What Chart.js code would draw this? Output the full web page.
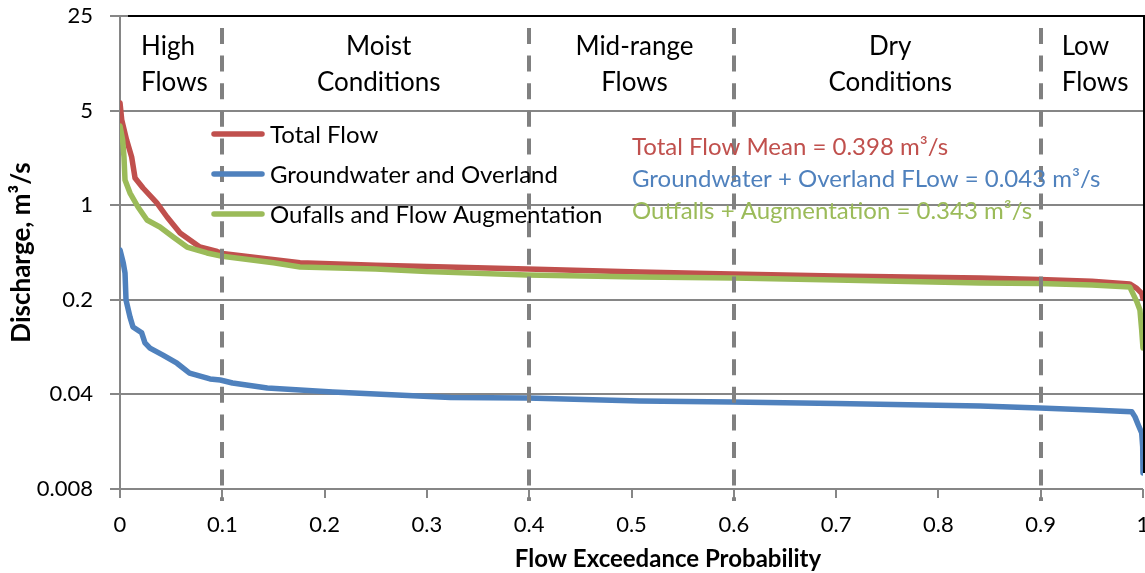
<!DOCTYPE html>
<html>
<head>
<meta charset="utf-8">
<title>Flow Duration Curves</title>
<script src="https://cdn.jsdelivr.net/npm/chart.js@4.4.1/dist/chart.umd.min.js"></script>
<style>
  html, body { margin: 0; padding: 0; background: #ffffff; }
  #wrap { width: 1145px; height: 573px; }
</style>
</head>
<body>
<div id="wrap"><canvas id="c" width="1145" height="573"></canvas></div>
<script>
// Flow duration curves: exceedance probability vs. discharge (m³/s)
const totalP = [0, 0.0017, 0.0065, 0.0114, 0.0147, 0.0225, 0.036, 0.046, 0.0587, 0.078, 0.095, 0.1, 0.176, 0.25, 0.3, 0.398, 0.508, 0.598, 0.7, 0.841, 0.899, 0.95, 0.987, 0.9939, 0.9987, 1.0];
const totalQ = [5.7, 4.26, 3.03, 2.27, 1.59, 1.34, 1.04, 0.818, 0.623, 0.491, 0.455, 0.44, 0.376, 0.36, 0.352, 0.338, 0.321, 0.31, 0.3, 0.29, 0.283, 0.274, 0.262, 0.243, 0.223, 0.205];

const gwP = [0, 0.0032, 0.0049, 0.0059, 0.0098, 0.0127, 0.0212, 0.0244, 0.0293, 0.042, 0.0557, 0.068, 0.088, 0.098, 0.11, 0.144, 0.208, 0.323, 0.398, 0.508, 0.598, 0.7, 0.841, 0.899, 0.95, 0.989, 0.9922, 0.9954, 0.9987, 0.9997, 1.0];
const gwQ = [0.467, 0.374, 0.316, 0.199, 0.149, 0.126, 0.114, 0.096, 0.088, 0.078, 0.068, 0.0575, 0.052, 0.0511, 0.0486, 0.0446, 0.0416, 0.038, 0.0376, 0.0357, 0.0351, 0.0342, 0.0328, 0.0317, 0.0307, 0.0298, 0.0273, 0.0238, 0.0208, 0.0164, 0.0105];

const outP = [0, 0.0026, 0.0039, 0.0049, 0.0098, 0.0176, 0.0264, 0.039, 0.052, 0.0655, 0.085, 0.1, 0.15, 0.176, 0.25, 0.3, 0.398, 0.508, 0.6, 0.7, 0.841, 0.899, 0.95, 0.987, 0.9939, 0.997, 0.9987, 1.0];
const outQ = [3.85, 3.03, 2.27, 1.535, 1.23, 0.97, 0.777, 0.69, 0.582, 0.491, 0.4435, 0.42, 0.375, 0.35, 0.338, 0.323, 0.305, 0.295, 0.29, 0.28, 0.266, 0.264, 0.257, 0.249, 0.194, 0.168, 0.12, 0.088];

const seriesNames = ['Total Flow', 'Groundwater and Overland', 'Oufalls and Flow Augmentation'];
const meanLabels = ['Total Flow Mean = 0.398 m³/s', 'Groundwater + Overland FLow = 0.043 m³/s', 'Outfalls + Augmentation = 0.343 m³/s'];
const xTitle = 'Flow Exceedance Probability';
const yTitle = 'Discharge, m³/s';

const yTicks = [0.008, 0.04, 0.2, 1, 5, 25];
const yTickLabels = ['0.008', '0.04', '0.2', '1', '5', '25'];
const xTicks = [0, 0.1, 0.2, 0.3, 0.4, 0.5, 0.6, 0.7, 0.8, 0.9, 1];
const xTickLabels = ['0', '0.1', '0.2', '0.3', '0.4', '0.5', '0.6', '0.7', '0.8', '0.9', '1'];

// flow-regime zones along the exceedance axis
const zoneBounds = [0, 0.1, 0.4, 0.6, 0.9, 1];
const zoneNames = [['High', 'Flows'], ['Moist', 'Conditions'], ['Mid-range', 'Flows'], ['Dry', 'Conditions'], ['Low', 'Flows']];

const COLORS = ['#C0504D', '#4F81BD', '#9BBB59'];
const FONT = 'Lato, "Open Sans", sans-serif';
const GRID = '#868686';

const toPoints = (p, q) => p.map((v, i) => ({ x: v, y: q[i] }));

const overlay = {
  id: 'overlay',
  afterDatasetsDraw(chart) {
    const { ctx, chartArea: a, scales: { x } } = chart;
    ctx.save();
    // plot frame (top and right)
    ctx.strokeStyle = '#000';
    ctx.lineWidth = 2;
    ctx.beginPath();
    ctx.moveTo(a.left + 8, a.top);
    ctx.lineTo(a.right + 2, a.top);
    ctx.moveTo(a.right + 1, a.top);
    ctx.lineTo(a.right + 1, a.bottom - 16);
    ctx.stroke();

    // zone separators
    ctx.strokeStyle = '#808080';
    ctx.lineWidth = 4;
    ctx.setLineDash([16, 11.6]);
    for (let i = 1; i < zoneBounds.length - 1; i++) {
      const px = Math.round(x.getPixelForValue(zoneBounds[i]));
      ctx.beginPath();
      ctx.moveTo(px, a.top + 12);
      ctx.lineTo(px, a.bottom + 12);
      ctx.stroke();
    }
    ctx.setLineDash([]);

    // zone names
    ctx.fillStyle = '#000';
    ctx.font = '26px ' + FONT;
    ctx.textBaseline = 'alphabetic';
    zoneNames.forEach((lines, i) => {
      const x0 = x.getPixelForValue(zoneBounds[i]);
      const x1 = x.getPixelForValue(zoneBounds[i + 1]);
      let tx, align;
      if (i === 0 || i === zoneNames.length - 1) { tx = x0 + 21; align = 'left'; }
      else { tx = (x0 + x1) / 2 + 3; align = 'center'; }
      ctx.textAlign = align;
      lines.forEach((t, j) => ctx.fillText(t, tx, a.top + 39 + j * 36));
    });
    ctx.restore();
  },
  afterDraw(chart) {
    const { ctx, chartArea: a } = chart;
    ctx.save();
    // legend
    ctx.lineCap = 'round';
    ctx.lineWidth = 5.5;
    ctx.font = '24px ' + FONT;
    ctx.textBaseline = 'middle';
    ctx.textAlign = 'left';
    seriesNames.forEach((name, i) => {
      const ly = 134 + i * 40;
      ctx.strokeStyle = COLORS[i];
      ctx.beginPath();
      ctx.moveTo(214, ly);
      ctx.lineTo(262, ly);
      ctx.stroke();
      ctx.fillStyle = '#000';
      ctx.fillText(name, 270, ly + 1);
    });
    // mean flow annotations
    ctx.textBaseline = 'alphabetic';
    meanLabels.forEach((t, i) => {
      ctx.fillStyle = COLORS[i];
      ctx.fillText(t, 632, 155 + i * 32);
    });
    // horizontal axis title (centred on the full figure width)
    ctx.fillStyle = '#000';
    ctx.font = 'bold 24px ' + FONT;
    ctx.textAlign = 'center';
    ctx.textBaseline = 'middle';
    ctx.fillText(xTitle, 668, a.bottom + 70);
    ctx.restore();
  }
};

new Chart(document.getElementById('c'), {
  type: 'line',
  data: {
    datasets: [
      { label: seriesNames[0], data: toPoints(totalP, totalQ), borderColor: COLORS[0], order: 2 },
      { label: seriesNames[1], data: toPoints(gwP, gwQ), borderColor: COLORS[1], order: 1 },
      { label: seriesNames[2], data: toPoints(outP, outQ), borderColor: COLORS[2], order: 0 }
    ]
  },
  options: {
    responsive: false,
    animation: false,
    devicePixelRatio: 1,
    layout: { padding: { top: 16, right: 2, left: 0, bottom: 0 } },
    elements: {
      line: { borderWidth: 5.5, tension: 0, borderJoinStyle: 'round', borderCapStyle: 'round', fill: false },
      point: { radius: 0, hoverRadius: 0 }
    },
    plugins: { legend: { display: false }, tooltip: { enabled: false } },
    scales: {
      x: {
        type: 'linear',
        min: 0, max: 1,
        afterBuildTicks: s => { s.ticks = xTicks.map(v => ({ value: v })); },
        afterFit: s => { s.height = 84; s.paddingLeft = 0; s.paddingRight = 0; },
        ticks: {
          autoSkip: false, maxRotation: 0,
          callback: (v, i) => xTickLabels[i],
          font: { family: FONT, size: 22 }, color: '#000', padding: 14
        },
        grid: { drawOnChartArea: false, drawTicks: true, tickLength: 9, color: GRID, lineWidth: 2 },
        border: { display: false },
        title: { display: false }
      },
      y: {
        type: 'logarithmic',
        min: 0.008, max: 25,
        afterBuildTicks: s => { s.ticks = yTicks.map(v => ({ value: v })); },
        afterFit: s => { s.width = 120; s.paddingTop = 0; s.paddingBottom = 0; },
        ticks: {
          autoSkip: false,
          callback: (v, i) => yTickLabels[i],
          font: { family: FONT, size: 22 }, color: '#000', padding: 17
        },
        grid: { color: GRID, lineWidth: 2, tickLength: 10 },
        border: { color: GRID, width: 2 },
        title: {
          display: true, text: yTitle,
          font: { family: FONT, size: 26, weight: 'bold' }, color: '#000',
          padding: { top: 6, bottom: 0 }
        }
      }
    }
  },
  plugins: [overlay]
});
</script>
</body>
</html>
